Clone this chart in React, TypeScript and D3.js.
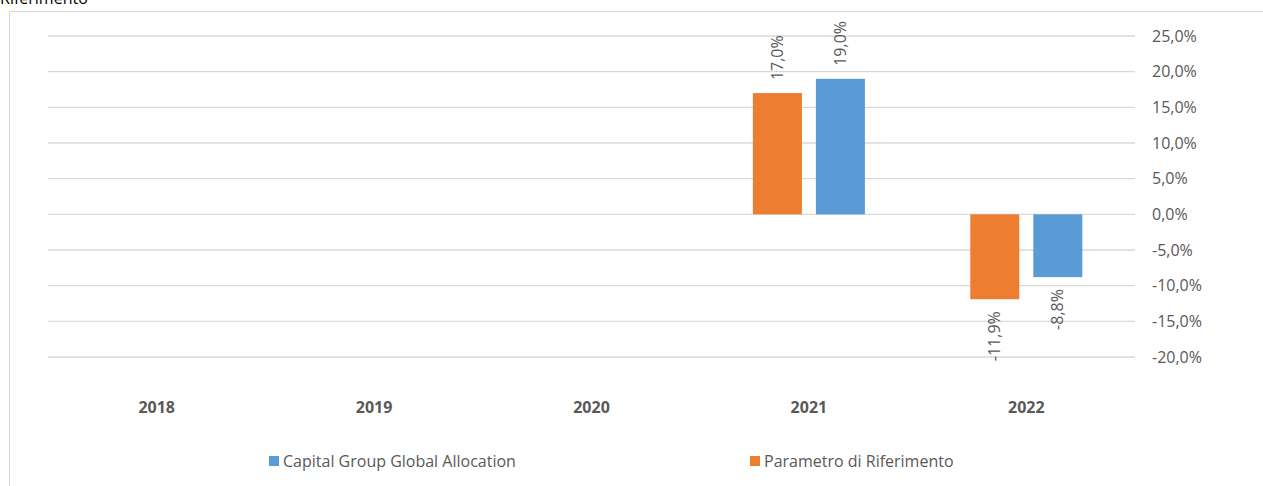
import React from "react";
import * as d3 from "d3";

const years = ["2018", "2019", "2020", "2021", "2022"];
const seriesNames = ["Parametro di Riferimento", "Capital Group Global Allocation"];
const parametroValues: (number | null)[] = [null, null, null, 17.0, -11.9];
const capitalValues: (number | null)[] = [null, null, null, 19.0, -8.8];
const yTicks = [25, 20, 15, 10, 5, 0, -5, -10, -15, -20];
const legendOrder = ["Capital Group Global Allocation", "Parametro di Riferimento"];

const colors: Record<string, string> = {
  "Parametro di Riferimento": "#ED7D31",
  "Capital Group Global Allocation": "#5B9BD5",
};

const W = 1263;
const H = 486;
const FONT = "'Open Sans', 'Noto Sans', sans-serif";
const TXT = "#595959";

const fmt = (v: number) => v.toFixed(1).replace(".", ",") + "%";

export default function App() {
  const x = d3.scaleBand<string>().domain(years).range([48, 1135]);
  const xs = d3
    .scaleBand<string>()
    .domain(seriesNames)
    .range([0, x.bandwidth()])
    .paddingInner(14 / 63)
    .paddingOuter(0.836);
  const y = d3.scaleLinear().domain([-20, 25]).range([357, 36]);

  const valuesBySeries: Record<string, (number | null)[]> = {
    "Parametro di Riferimento": parametroValues,
    "Capital Group Global Allocation": capitalValues,
  };

  const bars: { key: string; s: string; yr: string; v: number }[] = [];
  seriesNames.forEach((s) => {
    valuesBySeries[s].forEach((v, i) => {
      if (v !== null) bars.push({ key: s + years[i], s, yr: years[i], v });
    });
  });

  const legendPos = [269, 750];

  return (
    <div style={{ position: "absolute", left: 0, top: 0 }}>
      <svg width={W} height={H} style={{ display: "block", fontFamily: FONT }}>
        <rect x={0} y={0} width={W} height={H} fill="#fff" />
        <text x={0} y={4} fontSize={16} fill="#000">Riferimento</text>
        {/* chart border */}
        <path d={`M9.5,${H} V11.5 H${W}`} fill="none" stroke="#d9d9d9" strokeWidth={1} />
        {/* gridlines */}
        {yTicks.map((t) => (
          <line key={t} x1={48} x2={1135} y1={y(t)} y2={y(t)} stroke="#d9d9d9" strokeWidth={1.3} />
        ))}
        {/* tick labels */}
        {yTicks.map((t) => (
          <text key={"l" + t} x={1152} y={y(t)} dy="0.35em" fontSize={16} fill={TXT}>
            {fmt(t)}
          </text>
        ))}
        {/* bars */}
        {bars.map((b) => {
          const bx = (x(b.yr) as number) + (xs(b.s) as number);
          const y0 = y(0);
          const yv = y(b.v);
          return (
            <rect
              key={b.key}
              x={bx}
              y={Math.min(y0, yv)}
              width={xs.bandwidth()}
              height={Math.abs(yv - y0)}
              fill={colors[b.s]}
            />
          );
        })}
        {/* data labels */}
        {bars.map((b) => {
          const cx = (x(b.yr) as number) + (xs(b.s) as number) + xs.bandwidth() / 2;
          const pos = b.v >= 0;
          const ly = pos ? y(b.v) - 13 : y(b.v) + 12;
          return (
            <text
              key={"d" + b.key}
              transform={`translate(${cx},${ly}) rotate(-90)`}
              textAnchor={pos ? "start" : "end"}
              dy="0.35em"
              fontSize={16}
              fill={TXT}
            >
              {fmt(b.v)}
            </text>
          );
        })}
        {/* category labels */}
        {years.map((yr) => (
          <text
            key={"c" + yr}
            x={(x(yr) as number) + x.bandwidth() / 2}
            y={407}
            dy="0.35em"
            textAnchor="middle"
            fontSize={16}
            fontWeight="bold"
            fill={TXT}
          >
            {yr}
          </text>
        ))}
        {/* legend */}
        {legendOrder.map((s, i) => (
          <g key={"lg" + s} transform={`translate(${legendPos[i]},456)`}>
            <rect x={0} y={0} width={10} height={10} fill={colors[s]} />
            <text x={14} y={5} dy="0.35em" fontSize={16} fill={TXT}>
              {s}
            </text>
          </g>
        ))}
      </svg>
    </div>
  );
}
